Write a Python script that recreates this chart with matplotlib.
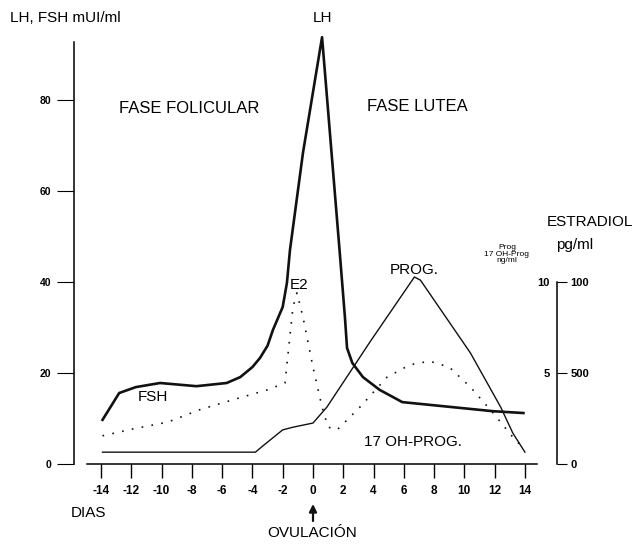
import matplotlib.pyplot as plt

plt.rcParams['font.family'] = ['Liberation Sans Narrow', 'Liberation Sans', 'DejaVu Sans']

# LH / FSH (curva gruesa), mUI/ml
dias_lh = [-13.9, -12.8, -11.7, -10.1, -7.7, -5.7, -4.8, -4.0, -3.5, -3.0, -2.64, -2.0,
           -1.72, -1.52, -0.66, 0.6, 1.78, 2.11, 2.25, 2.6, 3.3, 4.4, 5.9, 9.2,
           11.9, 13.9]
lh_fsh = [9.7, 15.6, 16.9, 17.8, 17.1, 17.8, 19.1, 21.3, 23.3, 26.0, 29.5, 34.5,
          39.8, 47.0, 68.4, 93.8, 46.0, 32.3, 25.5, 22.2, 19.1, 16.3, 13.6, 12.5,
          11.6, 11.2]

# estradiol (punteada)
dias_e2 = [-13.9, -11.9, -9.6, -7.5, -5.3, -3.0, -1.85, -1.32, -1.06, -0.66, 0.0, 0.6,
           1.0, 1.6, 3.1, 4.9, 6.4, 7.7, 9.0, 10.4, 11.9, 13.2, 13.9]
e2 = [6.2, 7.7, 9.2, 11.9, 14.1, 16.3, 17.8, 34.5, 37.6, 32.3, 21.3, 12.5,
      8.1, 7.5, 12.5, 19.1, 21.8, 22.6, 21.3, 16.9, 11.2, 5.9, 3.5]

# progesterona (fina)
dias_prog = [-13.9, -3.8, -3.3, -2.0, -1.3, 0.0, 0.92, 3.76, 6.7, 7.1, 10.4, 12.4, 13.2, 14.0]
prog = [2.6, 2.6, 4.0, 7.5, 8.1, 9.0, 12.5, 26.8, 41.1, 40.4, 24.4, 12.5, 6.8, 2.6]

ticks_dias = [-14, -12, -10, -8, -6, -4, -2, 0, 2, 4, 6, 8, 10, 12, 14]
ticks_izq = [0, 20, 40, 60, 80]
ticks_der = [0, 20, 40]
etiq_estradiol = ['0', '500', '100']
ticks_prog = [20, 40]
etiq_prog = ['5', '10']

W, H = 640, 545
def px(x, y):
    return x / W, 1 - y / H

fig = plt.figure(figsize=(6.4, 5.45), dpi=100)
ax = fig.add_axes([0.0625, 0.0826, 0.90625, 0.8807])
ax.set_xlim(-18.03, 20.28)
ax.set_ylim(-7.91, 97.58)

ax.plot(dias_lh, lh_fsh, color='#111111', lw=1.9, solid_joinstyle='round')
ax.plot(dias_e2, e2, color='#111111', lw=1.2, linestyle=(0, (1, 5)))
ax.plot(dias_prog, prog, color='#111111', lw=1.0)

ax.spines['top'].set_visible(False)
ax.spines['right'].set_visible(False)
ax.spines['left'].set_position(('data', -15.8))
ax.spines['left'].set_bounds(0, 92.7)
ax.spines['bottom'].set_position(('data', 0))
ax.spines['bottom'].set_bounds(-14.9, 14.8)
for s in ['left', 'bottom']:
    ax.spines[s].set_linewidth(1.1)

ax.set_xticks(ticks_dias)
ax.set_xticklabels([str(d) for d in ticks_dias], fontsize=8.5, fontweight='bold')
ax.tick_params(axis='x', direction='out', length=10, width=1, pad=5)
ax.set_yticks(ticks_izq)
ax.set_yticklabels([str(v) for v in ticks_izq], fontsize=7.5, fontweight='bold')
ax.tick_params(axis='y', direction='out', length=12, width=0.8, pad=4)

# eje de estradiol (derecha)
ax2 = ax.twinx()
ax2.set_ylim(ax.get_ylim())
for s in ['top', 'left', 'bottom']:
    ax2.spines[s].set_visible(False)
ax2.spines['right'].set_position(('data', 16.1))
ax2.spines['right'].set_bounds(0, 40)
ax2.spines['right'].set_linewidth(1.1)
ax2.set_yticks(ticks_der)
ax2.set_yticklabels(etiq_estradiol, fontsize=8, fontweight='bold')
ax2.tick_params(axis='y', direction='out', length=7, width=0.8, pad=3)

# etiquetas de progesterona a la izquierda del mismo eje
ax3 = ax.twinx()
ax3.set_ylim(ax.get_ylim())
for s in ax3.spines.values():
    s.set_visible(False)
ax3.spines['left'].set_position(('data', 16.1))
ax3.yaxis.tick_left()
ax3.set_yticks(ticks_prog)
ax3.set_yticklabels(etiq_prog, fontsize=8, fontweight='bold')
ax3.tick_params(axis='y', length=0, pad=5)

# textos
ax.text(0.66, 98, 'LH', ha='center', va='center', fontsize=11)
ax.text(-8.2, 78.2, 'FASE FOLICULAR', ha='center', va='center', fontsize=12)
ax.text(6.9, 78.5, 'FASE LUTEA', ha='center', va='center', fontsize=12)
ax.text(-10.6, 14.7, 'FSH', ha='center', va='center', fontsize=11)
ax.text(-0.92, 39.3, 'E2', ha='center', va='center', fontsize=11)
ax.text(6.67, 42.6, 'PROG.', ha='center', va='center', fontsize=11)
ax.text(6.6, 4.8, '17 OH-PROG.', ha='center', va='center', fontsize=11)

fig.text(*px(10, 18), 'LH, FSH mUI/ml', ha='left', va='center', fontsize=11)
fig.text(*px(590, 222), 'ESTRADIOL', ha='center', va='center', fontsize=11)
fig.text(*px(575, 245), 'pg/ml', ha='center', va='center', fontsize=11)
fig.text(*px(507, 254), 'Prog\n17 OH-Prog\nng/ml', ha='center', va='center',
         fontsize=6, linespacing=0.9)
fig.text(*px(88, 513), 'DIAS', ha='center', va='center', fontsize=11)
fig.text(*px(312, 533), 'OVULACIÓN', ha='center', va='center', fontsize=11)

ax.annotate('', xy=(313, 545 - 504), xytext=(313, 545 - 521),
            xycoords='figure pixels', textcoords='figure pixels',
            arrowprops=dict(arrowstyle='-|>', color='#111111', lw=1.6,
                            mutation_scale=11, shrinkA=0, shrinkB=0))

fig.savefig('out.png', dpi=100)
